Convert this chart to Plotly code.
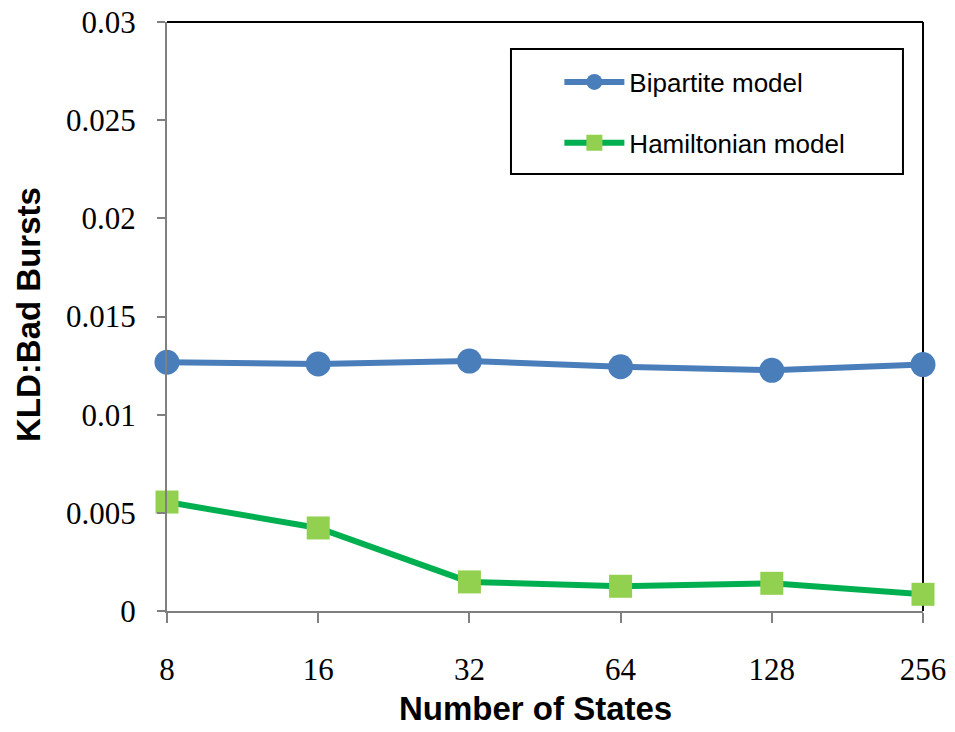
import plotly.graph_objects as go

states = ["8", "16", "32", "64", "128", "256"]
bipartite = [0.01267, 0.01258, 0.01273, 0.01244, 0.01226, 0.01255]
hamiltonian = [0.00555, 0.00423, 0.00148, 0.00126, 0.00141, 0.00085]
y_ticks = [0, 0.005, 0.01, 0.015, 0.02, 0.025, 0.03]
y_ticktext = ["0", "0.005", "0.01", "0.015", "0.02", "0.025", "0.03"]

fig = go.Figure()
fig.add_trace(go.Scatter(
    x=states, y=bipartite, mode="lines+markers", name="Bipartite model",
    line=dict(color="#4A7EBB", width=6),
    marker=dict(symbol="circle", size=25, color="#4A7EBB"),
    cliponaxis=False, legendgroup="a"))
fig.add_trace(go.Scatter(
    x=states, y=hamiltonian, mode="lines+markers", name="Hamiltonian model",
    line=dict(color="#00B050", width=6),
    marker=dict(symbol="square", size=23, color="#92D050"),
    cliponaxis=False, legendgroup="b"))

fig.update_layout(
    width=947, height=724,
    margin=dict(l=159, r=32, t=14, b=121, autoexpand=False),
    paper_bgcolor="white", plot_bgcolor="white",
    showlegend=True,
    legend=dict(x=0.519, y=0.938, xanchor="left", yanchor="top",
                bgcolor="rgba(0,0,0,0)", borderwidth=0,
                font=dict(family="Liberation Sans", size=26, color="black"),
                itemwidth=60, tracegroupgap=24),
    xaxis=dict(type="category", range=[0, 5], showgrid=False, automargin=False,
               showline=True, linecolor="#808080", linewidth=2,
               ticks="outside", ticklen=10, tickcolor="#808080", tickwidth=2,
               tickfont=dict(family="Liberation Serif", size=31, color="black"),
               ticklabelstandoff=20, ticklabeloverflow="allow", zeroline=False),
    yaxis=dict(range=[0, 0.03], tickvals=y_ticks, ticktext=y_ticktext, automargin=False,
               showgrid=False, showline=True, linecolor="#808080", linewidth=2,
               ticks="outside", ticklen=8, tickcolor="#808080", tickwidth=2,
               tickfont=dict(family="Liberation Serif", size=31, color="black"),
               ticklabelstandoff=15, ticklabeloverflow="allow", zeroline=False),
    shapes=[
        dict(type="line", xref="paper", yref="paper", x0=0, x1=1, y0=1, y1=1,
             line=dict(color="black", width=2), layer="above"),
        dict(type="line", xref="paper", yref="paper", x0=1, x1=1, y0=0, y1=1,
             line=dict(color="black", width=2), layer="below"),
        dict(type="rect", xref="paper", yref="paper", x0=0.455, x1=0.9735,
             y0=0.742, y1=0.954, line=dict(color="black", width=2),
             fillcolor="rgba(0,0,0,0)"),
    ],
    annotations=[
        dict(text="<b>Number of States</b>", xref="paper", yref="paper",
             x=0.488, y=-0.165, xanchor="center", yanchor="middle", showarrow=False,
             font=dict(family="Liberation Sans", size=33, color="black")),
        dict(text="<b>KLD:Bad Bursts</b>", xref="paper", yref="paper",
             x=(28 - 167) / 756, y=(611 - 315) / 589, xanchor="center", yanchor="middle",
             textangle=-90, showarrow=False,
             font=dict(family="Liberation Sans", size=33, color="black")),
    ],
)

fig.write_html("out.html")
